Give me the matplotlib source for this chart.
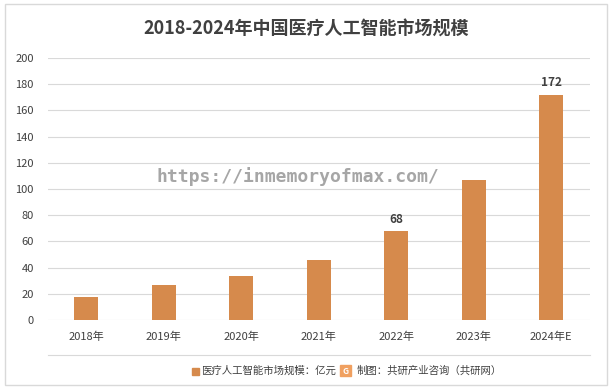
import matplotlib
matplotlib.use('Agg')
import matplotlib.pyplot as plt
from matplotlib.patches import Rectangle

plt.rcParams['font.family'] = ['Noto Sans CJK SC', 'DejaVu Sans']

years = ['2018年', '2019年', '2020年', '2021年', '2022年', '2023年', '2024年E']
values = [17.5, 27, 34, 46, 68, 107, 172]
labelled = {4: '68', 6: '172'}
yticks = [0, 20, 40, 60, 80, 100, 120, 140, 160, 180, 200]

BAR = '#D68A4C'
GRID = '#D9D9D9'

fig = plt.figure(figsize=(6.12, 3.89), dpi=100)
ax = fig.add_axes([0.078, 0.177, 0.886, 0.674])

x = list(range(len(years)))
ax.bar(x, values, width=0.31, color=BAR, zorder=3)
for i, txt in labelled.items():
    ax.text(i, values[i] + 4, txt, ha='center', va='bottom', fontsize=8.5,
            color='#404040', fontweight='bold')

ax.set_ylim(0, 200)
ax.set_xlim(-0.5, len(years) - 0.5)
ax.set_yticks(yticks)
ax.set_yticklabels([str(v) for v in yticks])
ax.set_xticks(x)
ax.set_xticklabels(years)
ax.tick_params(axis='both', length=0, labelsize=8, colors='#404040')
ax.tick_params(axis='x', pad=8)
ax.tick_params(axis='y', pad=10)
ax.grid(axis='y', color=GRID, linewidth=0.8, zorder=0)
for sp in ax.spines.values():
    sp.set_visible(False)

fig.text(0.5, 0.925, '2018-2024年中国医疗人工智能市场规模', ha='center', va='center',
         fontsize=13, fontweight='bold', color='#404040')

# watermark url
fig.text(0.255, 0.545, 'https://inmemoryofmax.com/', ha='left', va='center',
         fontsize=13, color='#A6A6A6', family='DejaVu Sans Mono', fontweight='bold')

# separator and legend
fig.add_artist(plt.Line2D([0.078, 0.964], [0.087, 0.087], color=GRID, linewidth=0.8))
fig.add_artist(Rectangle((0.314, 0.037), 0.011, 0.018, color=BAR))
fig.text(0.329, 0.046, '医疗人工智能市场规模：亿元', ha='left', va='center',
         fontsize=7.5, color='#404040')
fig.add_artist(Rectangle((0.556, 0.033), 0.018, 0.028, color='#F0A060'))
fig.text(0.565, 0.046, 'G', ha='center', va='center', fontsize=6, color='white', fontweight='bold')
fig.text(0.582, 0.046, '制图：共研产业咨询（共研网）', ha='left', va='center',
         fontsize=7.5, color='#404040')

# figure border
fig.add_artist(Rectangle((0.008, 0.01), 0.984, 0.98, fill=False,
                         edgecolor='#D9D9D9', linewidth=1.0))

fig.savefig('out.png', dpi=100)
